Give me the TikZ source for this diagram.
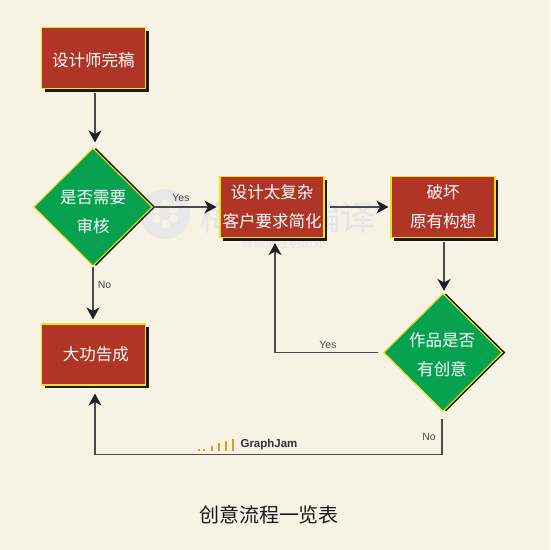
\documentclass[tikz,border=0pt]{standalone}
\usepackage{xcolor}
\usepackage{fontspec}
\setmainfont{Liberation Sans}
\newfontfamily\cjk{Noto Sans CJK SC}
\usepackage{tikz}
\usetikzlibrary{arrows.meta,positioning,shapes.geometric,shadows}
\definecolor{paper}{HTML}{F6F3E4}
\definecolor{brick}{HTML}{B03526}
\definecolor{leaf}{HTML}{07A24F}
\definecolor{rim}{HTML}{EFE01C}
\definecolor{wire}{HTML}{4A4A4E}
\definecolor{tipdark}{HTML}{1F1F26}
\definecolor{bars}{HTML}{E09A1E}
\tikzset{
  boxnode/.style={rectangle, fill=brick, draw=rim, line width=1.1pt, minimum width=104pt, minimum height=61pt, inner sep=0pt,
    text=white, font=\cjk\fontsize{16.5}{29}\selectfont, align=center,
    drop shadow={shadow xshift=3pt, shadow yshift=-3pt, fill=black!90, opacity=1}},
  choicenode/.style={diamond, aspect=1, fill=leaf, draw=rim, line width=1.1pt, minimum width=119pt, minimum height=118pt, inner sep=0pt,
    drop shadow={shadow xshift=3pt, shadow yshift=0pt, fill=black!90, opacity=1}},
  choicetext/.style={text=white, font=\cjk\fontsize{16.5}{29.5}\selectfont, align=center, inner sep=0pt},
  flow/.style={draw=wire, line width=1.6pt, -{Stealth[length=12pt, width=13pt, inset=3.5pt, color=tipdark]}},
  tag/.style={text=wire, font=\fontsize{10.5}{12}\selectfont, inner sep=0pt}
}
\begin{document}
\begin{tikzpicture}[x=1pt, y=-1pt]
  \useasboundingbox (0,0) rectangle (550,550);
  \fill[paper] (0,0) rectangle (550,550);

  % watermark
  \fill[black!9] (165,214) circle (25);
  \foreach \a in {30,90,...,330}
    \fill[paper] (165,214) ++(\a:10) circle (4.5);
  \node[text=black!10, font=\cjk\fontsize{35}{35}\selectfont, inner sep=0pt] (mark) at (288,217) {梅花网编译};
  \node[text=black!10, font=\cjk\fontsize{12}{12}\selectfont, inner sep=0pt] (marksub) at (283,243) {转载请注明出处};

  % boxes
  \node[boxnode] (draft) at (93.5,58) {};
  \node[choicetext] (drafttext) at (93.5,60) {设计师完稿};
  \node[choicenode] (review) at (93,207) {};
  \node[choicetext] (reviewtext) at (93,212) {是否需要\\审核};
  \node[boxnode] (simplify) at (272,207) {设计太复杂\\客户要求简化};
  \node[boxnode] (ruin) at (443,207) {破坏\\原有构想};
  \node[choicenode] (creative) at (443,352.5) {};
  \node[choicetext] (creativetext) at (442,354.5) {作品是否\\有创意};
  \node[boxnode] (done) at (93.5,354.5) {};
  \node[choicetext] (donetext) at (96,354.5) {大功告成};

  % arrows
  \draw[flow, shorten <=4pt, shorten >=5pt] ([xshift=1.5pt]draft.south) -- ([xshift=2pt]review.north);
  \draw[flow, shorten >=3pt] (review.east) -- (simplify.west);
  \draw[flow, shorten >=4pt] (review.south) -- (review.south |- done.north);
  \draw[flow, shorten <=4pt, shorten >=2pt] ([xshift=1pt]simplify.east) -- (ruin.west);
  \draw[flow, shorten <=4pt, shorten >=2pt] ([xshift=1pt]ruin.south) -- ([xshift=1pt]creative.north);
  \draw[flow, shorten <=5pt, shorten >=5pt] (creative.west) -| ([xshift=3pt]simplify.south);
  \draw[flow, shorten <=7pt, shorten >=8pt] ([xshift=-1pt]creative.south) |- (270,454.5) -- (95,454.5) -- ([xshift=1.5pt]done.south);

  % labels
  \node[tag] (yesa) at (181,198) {Yes};
  \node[tag] (noa) at (104.5,285) {No};
  \node[tag] (yesb) at (328,345) {Yes};
  \node[tag] (nob) at (429,436.5) {No};

  % logo
  \foreach \x/\h in {199/1.5,204/2,212/5,219/8,226/10,233/11.5}
    \fill[bars] (\x-1.1,450.5) rectangle (\x+1.1,450.5-\h);
  \node[text=black!80, font=\bfseries\fontsize{11.5}{12}\selectfont, inner sep=0pt] (jam) at (269,445) {GraphJam};

  \node[text=black!90, font=\cjk\fontsize{20}{24}\selectfont, inner sep=0pt] (title) at (269,515) {创意流程一览表};
\end{tikzpicture}
\end{document}
